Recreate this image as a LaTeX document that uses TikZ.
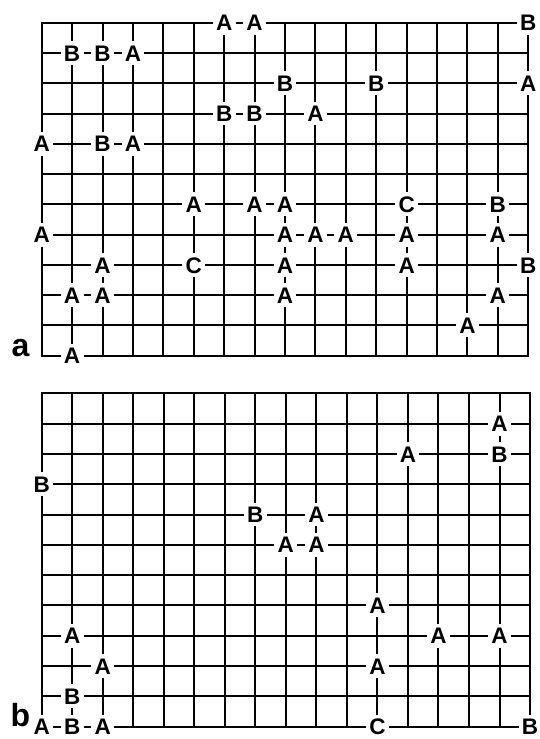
\documentclass[tikz,border=0pt]{standalone}
\usepackage{fontspec}
\setmainfont{Liberation Sans}
\begin{document}
\begin{tikzpicture}[x=1pt,y=-1pt,
  gridline/.style={line width=2pt, black, line cap=rect},
  lab/.style={fill=white, inner xsep=3.3pt, inner ysep=3.8pt, text height=16.3pt, text depth=0pt,
    font=\fontsize{22.5}{24}\selectfont\bfseries, anchor=center},
  panel/.style={font=\fontsize{32}{34}\selectfont\bfseries, anchor=base, inner sep=0pt}]
\useasboundingbox (0,0) rectangle (539,739);
% ---------- grid a ----------
\def\axo{41.7}\def\adx{30.41}\def\ayo{22.7}\def\ady{30.27}
\foreach \c in {0,...,16}
  \draw[gridline] ({\axo+\c*\adx},\ayo) -- ({\axo+\c*\adx},{\ayo+11*\ady});
\foreach \r in {0,...,11}
  \draw[gridline] (\axo,{\ayo+\r*\ady}) -- ({\axo+16*\adx},{\ayo+\r*\ady});
\foreach \c/\r/\t in {6/0/A,7/0/A,16/0/B,
  1/1/B,2/1/B,3/1/A,
  8/2/B,11/2/B,16/2/A,
  6/3/B,7/3/B,9/3/A,
  0/4/A,2/4/B,3/4/A,
  5/6/A,7/6/A,8/6/A,12/6/C,15/6/B,
  0/7/A,8/7/A,9/7/A,10/7/A,12/7/A,15/7/A,
  2/8/A,5/8/C,8/8/A,12/8/A,16/8/B,
  1/9/A,2/9/A,8/9/A,15/9/A,
  14/10/A,
  1/11/A}
  \node[lab] (a-\c-\r) at ({\axo+\c*\adx},{\ayo+\r*\ady}) {\t};
\node[panel] (pa) at (20.5,356) {a};
% ---------- grid b ----------
\def\bxo{41.7}\def\bdx{30.52}\def\byo{393.3}\def\bdy{30.3}
\foreach \c in {0,...,16}
  \draw[gridline] ({\bxo+\c*\bdx},\byo) -- ({\bxo+\c*\bdx},{\byo+11*\bdy});
\foreach \r in {0,...,11}
  \draw[gridline] (\bxo,{\byo+\r*\bdy}) -- ({\bxo+16*\bdx},{\byo+\r*\bdy});
\foreach \c/\r/\t in {15/1/A,
  12/2/A,15/2/B,
  0/3/B,
  7/4/B,9/4/A,
  8/5/A,9/5/A,
  11/7/A,
  1/8/A,13/8/A,15/8/A,
  2/9/A,11/9/A,
  1/10/B,
  0/11/A,1/11/B,2/11/A,11/11/C,16/11/B}
  \node[lab] (b-\c-\r) at ({\bxo+\c*\bdx},{\byo+\r*\bdy}) {\t};
\node[panel] (pb) at (20.5,726) {b};
\end{tikzpicture}
\end{document}
